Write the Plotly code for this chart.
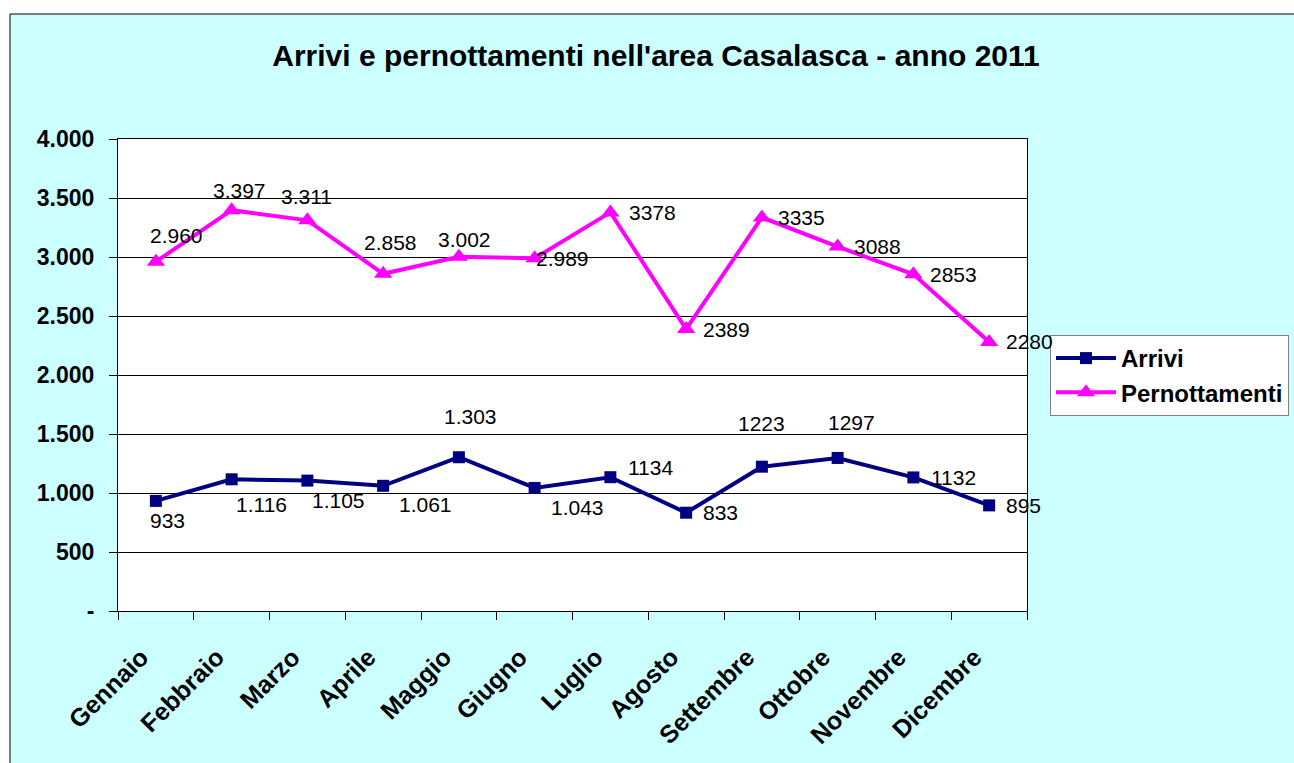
import plotly.graph_objects as go

# Monthly data, Casalasca area, 2011
mesi = ["Gennaio", "Febbraio", "Marzo", "Aprile", "Maggio", "Giugno",
        "Luglio", "Agosto", "Settembre", "Ottobre", "Novembre", "Dicembre"]
arrivi = [933, 1116, 1105, 1061, 1303, 1043, 1134, 833, 1223, 1297, 1132, 895]
pernottamenti = [2960, 3397, 3311, 2858, 3002, 2989, 3378, 2389, 3335, 3088, 2853, 2280]

# whether each label uses the dotted thousands separator
arrivi_punto = [True] * 6 + [False] * 6
pern_punto = [True] * 6 + [False] * 6

y_ticks = [0, 500, 1000, 1500, 2000, 2500, 3000, 3500, 4000]

# label placement (pixels: right, down) relative to each point
arrivi_off = [(12, 20), (30, 25), (31, 20), (42, 19), (12, -41), (43, 20),
              (40, -10), (34, 0), (0, -43), (14, -35), (40, 0), (34, 0)]
pern_off = [(21, -26), (8, -20), (-1, -24), (7, -31), (6, -17), (28, 0),
            (42, 0), (40, 0), (40, 0), (40, 0), (40, 0), (40, 0)]

FONT = "Arial, Liberation Sans, sans-serif"
NAVY = "#000080"
MAGENTA = "#FF00FF"
CYAN = "#CCFFFF"
PAD = "\u00a0" * 3  # trailing padding for the slanted month labels


def fmt(v, dotted):
    s = f"{v:,}"
    return s.replace(",", ".") if dotted else s.replace(",", "")


def tick_text(v):
    return "-" if v == 0 else f"{v:,}".replace(",", ".")


fig = go.Figure()
fig.add_trace(go.Scatter(
    x=mesi, y=arrivi, name="Arrivi", mode="lines+markers",
    line=dict(color=NAVY, width=4),
    marker=dict(symbol="square", size=12, color=NAVY),
))
fig.add_trace(go.Scatter(
    x=mesi, y=pernottamenti, name="Pernottamenti", mode="lines+markers",
    line=dict(color=MAGENTA, width=4),
    marker=dict(symbol="triangle-up", size=16, color=MAGENTA),
))

annotations = []
for vals, flags, offs in ((arrivi, arrivi_punto, arrivi_off),
                          (pernottamenti, pern_punto, pern_off)):
    for m, v, f, (dx, dy) in zip(mesi, vals, flags, offs):
        annotations.append(dict(
            x=m, y=v, xref="x", yref="y", text=fmt(v, f), showarrow=False,
            xshift=dx, yshift=-dy, xanchor="center", yanchor="middle",
            font=dict(family=FONT, size=21, color="black"),
        ))

L, R, T, B = 118, 1027, 139, 611
W, H = 1294, 763
pw, ph = R - L, B - T


def px_x(p):
    return (p - L) / pw


def px_y(p):
    return (B - p) / ph


shapes = [
    # white margin outside the chart frame
    dict(type="rect", xref="paper", yref="paper", x0=px_x(-5), x1=px_x(10),
         y0=px_y(H + 5), y1=px_y(-5), fillcolor="white", line=dict(width=0), layer="below"),
    dict(type="rect", xref="paper", yref="paper", x0=px_x(-5), x1=px_x(W + 5),
         y0=px_y(14), y1=px_y(-5), fillcolor="white", line=dict(width=0), layer="below"),
    # chart frame
    dict(type="rect", xref="paper", yref="paper", x0=px_x(10), x1=px_x(W + 20),
         y0=px_y(H + 20), y1=px_y(14), fillcolor="rgba(0,0,0,0)",
         line=dict(color="black", width=1), layer="below"),
]

fig.update_layout(
    width=W, height=H,
    margin=dict(l=L, r=W - R, t=T, b=H - B, pad=0, autoexpand=False),
    paper_bgcolor=CYAN, plot_bgcolor="white",
    font=dict(family=FONT, color="black"),
    title=dict(
        text="Arrivi e pernottamenti nell'area Casalasca - anno 2011",
        x=656 / W, xref="container", xanchor="center",
        y=1 - 55 / H, yref="container", yanchor="middle",
        font=dict(family=FONT, size=30, weight="bold", color="black"),
    ),
    showlegend=True,
    legend=dict(
        x=1050 / W, y=1 - 335 / H, xref="container", yref="container",
        xanchor="left", yanchor="top",
        bgcolor="white", bordercolor="#7f7f7f", borderwidth=1,
        font=dict(family=FONT, size=24, weight="bold", color="black"),
        itemwidth=60, tracegroupgap=0,
    ),
    xaxis=dict(
        type="category", categoryorder="array", categoryarray=mesi,
        range=[-0.5, len(mesi) - 0.5],
        tickmode="array", tickvals=mesi, ticktext=[m + PAD for m in mesi],
        showline=True, linecolor="black", linewidth=1, mirror=True,
        showgrid=False, zeroline=False,
        ticks="outside", ticklen=8, tickcolor="black", tickwidth=1,
        tickson="boundaries", tickangle=-45, ticklabelstandoff=6,
        tickfont=dict(family=FONT, size=25, weight="bold", color="black"),
    ),
    yaxis=dict(
        range=[0, 4000],
        tickvals=y_ticks, ticktext=[tick_text(v) for v in y_ticks],
        showline=True, linecolor="black", linewidth=1, mirror=True,
        showgrid=True, gridcolor="black", gridwidth=1, zeroline=False,
        ticks="outside", ticklen=8, tickcolor="black", tickwidth=1,
        ticklabelstandoff=10,
        tickfont=dict(family=FONT, size=23, weight="bold", color="black"),
    ),
    annotations=annotations,
    shapes=shapes,
)

fig.write_html("out.html")
